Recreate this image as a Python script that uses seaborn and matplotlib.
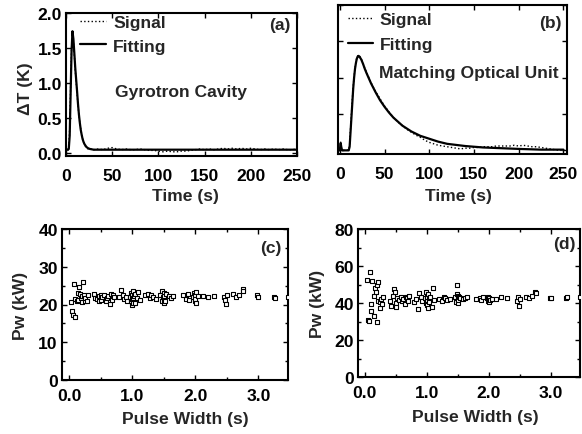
import matplotlib
matplotlib.use("Agg")
import matplotlib.pyplot as plt
import seaborn as sns
import pandas as pd
from matplotlib.ticker import MultipleLocator, FormatStrFormatter

# ---------------- data ----------------
# (a) Gyrotron cavity
a_fit_t = [0, 1, 2, 3, 4, 5, 6, 7, 8, 9, 10, 11, 12, 13, 14, 15, 16, 17, 18, 19, 20,
           22, 24, 26, 28, 30, 35, 40, 50, 60, 80, 100, 150, 200, 250]
a_fit_v = [0.05, 0.05, 0.05, 0.06, 0.25, 0.85, 1.45, 1.74, 1.63, 1.43, 1.22, 1.05, 0.88,
           0.70, 0.55, 0.43, 0.33, 0.26, 0.20, 0.16, 0.13, 0.09, 0.07, 0.06, 0.055, 0.05,
           0.05, 0.05, 0.05, 0.05, 0.05, 0.05, 0.05, 0.05, 0.05]
a_sig_t = list(range(0, 31)) + list(range(35, 251, 5))
a_sig_v = [0.02, 0.03, 0.02, 0.08, 0.35, 0.95, 1.50, 1.72, 1.60, 1.40, 1.18, 1.02, 0.85,
           0.68, 0.54, 0.43, 0.34, 0.27, 0.21, 0.16, 0.13, 0.10, 0.09, 0.07, 0.06, 0.06,
           0.05, 0.06, 0.05, 0.06, 0.05,
           0.06, 0.05, 0.07, 0.08, 0.06, 0.05, 0.06, 0.05, 0.05, 0.06, 0.05, 0.04, 0.04,
           0.03, 0.02, 0.03, 0.02, 0.02, 0.03, 0.03, 0.04, 0.05, 0.06, 0.05, 0.06, 0.05,
           0.06, 0.07, 0.06, 0.07, 0.06, 0.07, 0.06, 0.07, 0.06, 0.05, 0.06, 0.05, 0.06,
           0.05, 0.06, 0.05, 0.05, 0.06]

# (b) Matching optical unit
b_fit_t = [0, 1, 2, 3, 5, 8, 10, 11, 12, 13, 14, 15, 16, 17, 18, 19, 20, 21, 22, 24, 26,
           28, 30, 35, 40, 45, 50, 55, 60, 70, 80, 90, 100, 110, 120, 140, 160, 180, 200,
           225, 250]
b_fit_v = [0.0, 0.10, 0.02, 0.0, 0.0, 0.0, 0.0, 0.05, 0.25, 0.45, 0.65, 0.85, 1.00, 1.12,
           1.20, 1.26, 1.29, 1.30, 1.29, 1.25, 1.19, 1.12, 1.06, 0.92, 0.80, 0.69, 0.60,
           0.52, 0.45, 0.34, 0.26, 0.20, 0.16, 0.12, 0.09, 0.06, 0.04, 0.03, 0.02, 0.01,
           0.01]
b_sig_t = [0, 1, 2, 3, 5, 8, 10, 11, 12, 13, 14, 15, 16, 17, 18, 19, 20, 21, 22, 24, 26,
           28, 30] + list(range(35, 251, 5))
b_sig_v = [0.0, 0.12, 0.03, 0.0, 0.0, 0.0, 0.01, 0.08, 0.30, 0.50, 0.70, 0.88, 1.02, 1.13,
           1.21, 1.27, 1.30, 1.31, 1.30, 1.26, 1.20, 1.13, 1.07,
           0.93, 0.81, 0.71, 0.61, 0.53, 0.45, 0.39, 0.34, 0.29, 0.25, 0.21, 0.18, 0.14,
           0.11, 0.09, 0.07, 0.06, 0.05, 0.04, 0.03, 0.02, 0.03, 0.03, 0.04, 0.04, 0.05,
           0.05, 0.05, 0.06, 0.06, 0.06, 0.06, 0.07, 0.06, 0.07, 0.06, 0.05, 0.05, 0.04,
           0.03, 0.02, 0.01, 0.0, 0.0]

# (c), (d) power vs pulse width
pulse_width = [0.04, 0.05, 0.06, 0.08, 0.10, 0.10, 0.12, 0.14, 0.15, 0.16, 0.18, 0.19, 0.20,
               0.21, 0.22, 0.24, 0.25, 0.26, 0.28, 0.30,
               0.40, 0.42, 0.45, 0.47, 0.48, 0.50, 0.50, 0.52, 0.55, 0.58, 0.60, 0.62, 0.65,
               0.66, 0.68, 0.70, 0.72,
               0.80, 0.82, 0.85, 0.87, 0.90, 0.92,
               0.97, 0.98, 0.99, 1.00, 1.00, 1.00, 1.01, 1.02, 1.02, 1.03, 1.04, 1.05, 1.08,
               1.10, 1.12,
               1.20, 1.25, 1.28, 1.30, 1.33, 1.38,
               1.45, 1.47, 1.48, 1.49, 1.50, 1.50, 1.50, 1.51, 1.52, 1.53,
               1.58, 1.62, 1.65,
               1.80, 1.85, 1.88, 1.90,
               1.97, 1.98, 1.99, 2.00, 2.00, 2.01, 2.02, 2.05,
               2.12, 2.20, 2.30,
               2.45, 2.47, 2.48, 2.50,
               2.60, 2.65, 2.70, 2.75, 2.76,
               2.98, 3.00, 3.25, 3.26, 3.47]
pw_cavity = [20.6, 18.4, 17.3, 25.4, 21.5, 16.7, 20.9, 23.0, 21.2, 24.6, 22.9, 21.8, 20.6,
             22.2, 25.9, 22.6, 20.9, 21.8, 21.0, 22.4,
             22.8, 21.8, 21.4, 22.2, 21.0, 22.6, 21.3, 22.0, 22.4, 20.8, 21.6, 22.2, 20.2,
             22.8, 21.2, 22.5, 21.9,
             22.0, 23.9, 22.6, 21.4, 22.0, 20.8,
             22.0, 21.0, 23.0, 21.5, 20.0, 22.5, 20.5, 23.5, 21.8, 22.2, 20.3, 22.8, 21.6,
             23.3, 21.2,
             22.4, 22.8, 21.6, 22.6, 22.0, 21.5,
             22.5, 21.0, 23.5, 22.0, 20.5, 23.0, 21.5, 22.3, 21.0, 22.8,
             22.2, 21.8, 22.3,
             22.4, 21.5, 22.8, 21.2,
             22.0, 23.0, 20.8, 22.5, 21.5, 23.3, 20.5, 22.2,
             22.2, 22.0, 22.3,
             22.0, 21.2, 20.2, 22.5,
             22.8, 22.0, 22.6, 24.0, 23.7,
             22.4, 22.0, 22.0, 21.6, 22.0]
pw_mou = [52.4, 30.9, 30.5, 56.9, 39.5, 35.8, 52.0, 33.0, 44.0, 48.0, 46.0, 29.6, 50.0,
          41.0, 51.5, 40.7, 37.5, 42.0, 39.5, 43.5,
          41.0, 38.5, 44.0, 47.5, 46.0, 40.0, 38.0, 42.5, 41.5, 43.0, 41.0, 42.0, 39.5,
          43.5, 42.5, 41.0, 44.0,
          40.5, 42.0, 37.0, 45.5, 43.0, 41.0,
          42.5, 40.0, 46.0, 44.0, 41.5, 39.0, 43.0, 45.0, 37.5, 42.0, 40.5, 43.5, 38.0,
          48.0, 41.5,
          42.0, 41.0, 43.5, 42.5, 41.5, 42.0,
          43.0, 40.5, 45.0, 49.5, 42.0, 44.0, 40.0, 41.5, 43.5, 42.5,
          42.0, 42.5, 43.5,
          42.0, 42.5, 41.5, 43.0,
          42.5, 41.0, 43.5, 42.0, 40.5, 42.8, 41.5, 42.0,
          42.2, 43.0, 42.5,
          41.0, 43.0, 38.5, 42.0,
          43.5, 42.5, 43.8, 46.0, 45.5,
          42.5, 42.8, 42.5, 43.0, 43.0]

# ---------------- style ----------------
sns.set_style("ticks")
plt.rcParams['font.family'] = ['Liberation Sans', 'DejaVu Sans']
plt.rcParams['font.weight'] = 'bold'
plt.rcParams['axes.labelweight'] = 'bold'
FS = 12.6

fig = plt.figure(figsize=(5.82, 4.35), dpi=100)
W, H = 582, 435


def add_ax(l, r, t, b):
    return fig.add_axes([l / W, 1 - b / H, (r - l) / W, (b - t) / H])


axa = add_ax(66, 297, 14, 157)
axb = add_ax(338, 567, 6, 155)
axc = add_ax(62, 288, 230, 381)
axd = add_ax(358, 580, 230, 378)


def style(ax, xpad, ypad):
    for s in ax.spines.values():
        s.set_linewidth(1.5)
        s.set_color('black')
    ax.tick_params(which='both', direction='in', top=True, right=True,
                   colors='black', labelsize=FS, width=1.0)
    ax.tick_params(which='major', length=3.5)
    ax.tick_params(which='minor', length=2)
    ax.tick_params(axis='x', pad=xpad)
    ax.tick_params(axis='y', pad=ypad)


# (a)
df_as = pd.DataFrame({'t': a_sig_t, 'v': a_sig_v})
df_af = pd.DataFrame({'t': a_fit_t, 'v': a_fit_v})
sns.lineplot(data=df_as, x='t', y='v', ax=axa, color='black', lw=1.0, ls=':',
             estimator=None, sort=False, label='Signal')
sns.lineplot(data=df_af, x='t', y='v', ax=axa, color='black', lw=1.6,
             estimator=None, sort=False, label='Fitting')
axa.set_xlim(0, 250)
axa.set_ylim(-0.04, 2.0)
axa.xaxis.set_major_locator(MultipleLocator(50))
axa.yaxis.set_major_locator(MultipleLocator(0.5))
axa.yaxis.set_major_formatter(FormatStrFormatter('%.1f'))
style(axa, 8.5, 3)
axa.set_xlabel('Time (s)', fontsize=FS)
axa.set_ylabel('ΔT (K)', fontsize=FS)
axa.xaxis.set_label_coords(0.515, -0.225)
axa.yaxis.set_label_coords(-0.143, 0.48)
axa.legend(loc='upper left', bbox_to_anchor=(0.06, 0.985), frameon=False, fontsize=FS,
           handlelength=1.5, handletextpad=0.4, labelspacing=0.45, borderaxespad=0,
           borderpad=0)
axa.text(0.212, 0.45, 'Gyrotron Cavity', transform=axa.transAxes, fontsize=FS,
         fontweight='bold', ha='left', va='center')
axa.text(0.926, 0.922, '(a)', transform=axa.transAxes, fontsize=FS, fontweight='bold',
         ha='center', va='center')

# (b)
df_bs = pd.DataFrame({'t': b_sig_t, 'v': b_sig_v})
df_bf = pd.DataFrame({'t': b_fit_t, 'v': b_fit_v})
sns.lineplot(data=df_bs, x='t', y='v', ax=axb, color='black', lw=1.0, ls=':',
             estimator=None, sort=False, label='Signal')
sns.lineplot(data=df_bf, x='t', y='v', ax=axb, color='black', lw=1.6,
             estimator=None, sort=False, label='Fitting')
axb.set_xlim(-2, 254)
axb.set_ylim(-0.05, 2.0)
axb.xaxis.set_major_locator(MultipleLocator(50))
axb.yaxis.set_major_locator(MultipleLocator(0.5))
style(axb, 8.5, 3)
axb.set_yticklabels([])
axb.set_xlabel('Time (s)', fontsize=FS)
axb.set_ylabel('')
axb.xaxis.set_label_coords(0.528, -0.228)
axb.legend(loc='upper left', bbox_to_anchor=(0.045, 0.955), frameon=False, fontsize=FS,
           handlelength=1.4, handletextpad=0.4, labelspacing=0.55, borderaxespad=0,
           borderpad=0)
axb.text(0.179, 0.55, 'Matching Optical Unit', transform=axb.transAxes, fontsize=FS,
         fontweight='bold', ha='left', va='center')
axb.text(0.926, 0.885, '(b)', transform=axb.transAxes, fontsize=FS, fontweight='bold',
         ha='center', va='center')

# (c), (d)
df_p = pd.DataFrame({'pw': pulse_width, 'cav': pw_cavity, 'mou': pw_mou})
for ax, col, ymax, ymaj, ymin, lab, lc in [
        (axc, 'cav', 40, 10, 5, '(c)', (0.925, 0.88)),
        (axd, 'mou', 80, 20, 10, '(d)', (0.928, 0.9))]:
    sns.scatterplot(data=df_p, x='pw', y=col, ax=ax, marker='s', s=5,
                    facecolor='white', edgecolor='black', linewidth=0.8, zorder=3)
    ax.set_xlim(-0.11, 3.47)
    ax.set_ylim(0, ymax)
    ax.xaxis.set_major_locator(MultipleLocator(1.0))
    ax.xaxis.set_minor_locator(MultipleLocator(0.5))
    ax.yaxis.set_major_locator(MultipleLocator(ymaj))
    ax.yaxis.set_minor_locator(MultipleLocator(ymin))
    ax.xaxis.set_major_formatter(FormatStrFormatter('%.1f'))
    style(ax, 6, 3)
    ax.set_xlabel('Pulse Width (s)', fontsize=FS)
    ax.set_ylabel('Pw (kW)', fontsize=FS)
    ax.text(lc[0], lc[1], lab, transform=ax.transAxes, fontsize=FS, fontweight='bold',
            ha='center', va='center')

axc.xaxis.set_label_coords(0.544, -0.205)
axc.yaxis.set_label_coords(-0.150, 0.5)
axd.xaxis.set_label_coords(0.527, -0.216)
axd.yaxis.set_label_coords(-0.149, 0.5)

fig.savefig('out.png', dpi=100)
